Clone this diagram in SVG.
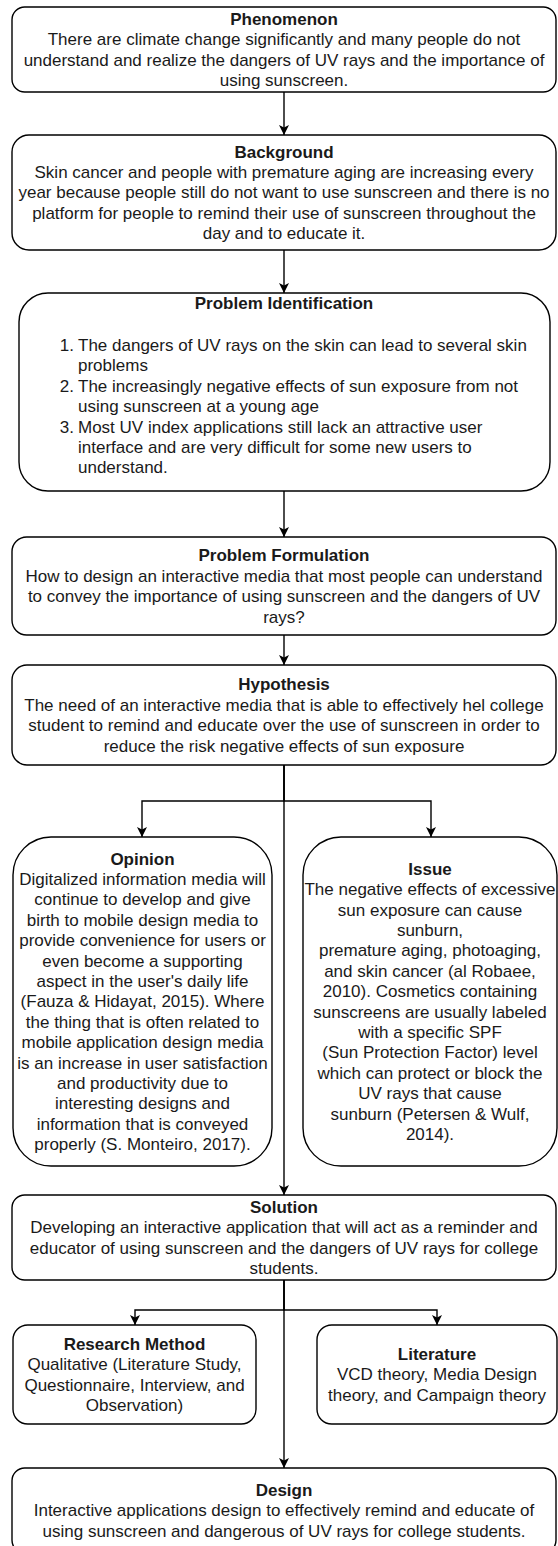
<svg xmlns="http://www.w3.org/2000/svg" width="558" height="1546" viewBox="0 0 558 1546">
<defs>
<style>
.box{fill:#ffffff;stroke:#000000;stroke-width:1.4}
.edge{fill:none;stroke:#000000;stroke-width:1.4}
text{font-family:"Liberation Sans",Arial,Helvetica,sans-serif;font-size:17px;fill:#1a1a1a}
.c{text-anchor:middle}
.b{font-weight:bold}
.n{text-anchor:end}
</style>
<marker id="arr" viewBox="0 0 10 10" refX="10" refY="5" markerWidth="10" markerHeight="10" markerUnits="userSpaceOnUse" orient="auto">
<path d="M0,0 L10,5 L0,10 L2.5,5 z" fill="#000000"/>
</marker>
</defs>
<rect width="558" height="1546" fill="#ffffff"/>
<g id="connectors">
<path class="edge" d="M284 92 V135" marker-end="url(#arr)"/>
<path class="edge" d="M284 250 V293" marker-end="url(#arr)"/>
<path class="edge" d="M284 491 V537" marker-end="url(#arr)"/>
<path class="edge" d="M284 635 V665" marker-end="url(#arr)"/>
<path class="edge" d="M284 765 V801 H142 V837" marker-end="url(#arr)"/>
<path class="edge" d="M284 765 V801 H431 V837" marker-end="url(#arr)"/>
<path class="edge" d="M284 765 V1195" marker-end="url(#arr)"/>
<path class="edge" d="M284 1280 V1310 H135 V1325" marker-end="url(#arr)"/>
<path class="edge" d="M284 1280 V1310 H437 V1325" marker-end="url(#arr)"/>
<path class="edge" d="M284 1280 V1468" marker-end="url(#arr)"/>
</g>
<g id="phenomenon">
<rect class="box" x="12" y="7" width="544" height="85" rx="12.7"/>
<text class="c b" x="284" y="24.9">Phenomenon</text>
<text class="c" x="284" y="45.3">There are climate change significantly and many people do not</text>
<text class="c" x="284" y="65.7">understand and realize the dangers of UV rays and the importance of</text>
<text class="c" x="284" y="86.1">using sunscreen.</text>
</g>
<g id="background">
<rect class="box" x="12" y="135" width="544" height="115" rx="17"/>
<text class="c b" x="284" y="157.6">Background</text>
<text class="c" x="284" y="178">Skin cancer and people with premature aging are increasing every</text>
<text class="c" x="284" y="198.4">year because people still do not want to use sunscreen and there is no</text>
<text class="c" x="284" y="218.8">platform for people to remind their use of sunscreen throughout the</text>
<text class="c" x="284" y="239.2">day and to educate it.</text>
</g>
<g id="problem-identification">
<rect class="box" x="19" y="293" width="531" height="198" rx="29"/>
<text class="c b" x="284" y="309">Problem Identification</text>
<text class="n" x="74" y="351">1.</text>
<text x="78" y="351">The dangers of UV rays on the skin can lead to several skin</text>
<text x="78" y="371.4">problems</text>
<text class="n" x="74" y="391.8">2.</text>
<text x="78" y="391.8">The increasingly negative effects of sun exposure from not</text>
<text x="78" y="412.2">using sunscreen at a young age</text>
<text class="n" x="74" y="432.6">3.</text>
<text x="78" y="432.6">Most UV index applications still lack an attractive user</text>
<text x="78" y="453">interface and are very difficult for some new users to</text>
<text x="78" y="473.4">understand.</text>
</g>
<g id="problem-formulation">
<rect class="box" x="12" y="537" width="544" height="98" rx="14.7"/>
<text class="c b" x="284" y="561.3">Problem Formulation</text>
<text class="c" x="284" y="581.7">How to design an interactive media that most people can understand</text>
<text class="c" x="284" y="602.1">to convey the importance of using sunscreen and the dangers of UV</text>
<text class="c" x="284" y="622.5">rays?</text>
</g>
<g id="hypothesis">
<rect class="box" x="12" y="665" width="544" height="100" rx="15"/>
<text class="c b" x="284" y="690.3">Hypothesis</text>
<text class="c" x="284" y="710.7">The need of an interactive media that is able to effectively hel college</text>
<text class="c" x="284" y="731.1">student to remind and educate over the use of sunscreen in order to</text>
<text class="c" x="284" y="751.5">reduce the risk negative effects of sun exposure</text>
</g>
<g id="opinion">
<rect class="box" x="13" y="837" width="259" height="329" rx="38"/>
<text class="c b" x="142.5" y="864.6">Opinion</text>
<text class="c" x="142.5" y="885">Digitalized information media will</text>
<text class="c" x="142.5" y="905.4">continue to develop and give</text>
<text class="c" x="142.5" y="925.8">birth to mobile design media to</text>
<text class="c" x="142.5" y="946.2">provide convenience for users or</text>
<text class="c" x="142.5" y="966.6">even become a supporting</text>
<text class="c" x="142.5" y="987">aspect in the user's daily life</text>
<text class="c" x="142.5" y="1007.4">(Fauza &amp; Hidayat, 2015). Where</text>
<text class="c" x="142.5" y="1027.8">the thing that is often related to</text>
<text class="c" x="142.5" y="1048.2">mobile application design media</text>
<text class="c" x="142.5" y="1068.6">is an increase in user satisfaction</text>
<text class="c" x="142.5" y="1089">and productivity due to</text>
<text class="c" x="142.5" y="1109.4">interesting designs and</text>
<text class="c" x="142.5" y="1129.8">information that is conveyed</text>
<text class="c" x="142.5" y="1150.2">properly (S. Monteiro, 2017).</text>
</g>
<g id="issue">
<rect class="box" x="303" y="837" width="254" height="329" rx="38"/>
<text class="c b" x="430" y="874.8">Issue</text>
<text class="c" x="430" y="895.2">The negative effects of excessive</text>
<text class="c" x="430" y="915.6">sun exposure can cause</text>
<text class="c" x="430" y="936">sunburn,</text>
<text class="c" x="430" y="956.4">premature aging, photoaging,</text>
<text class="c" x="430" y="976.8">and skin cancer (al Robaee,</text>
<text class="c" x="430" y="997.2">2010). Cosmetics containing</text>
<text class="c" x="430" y="1017.6">sunscreens are usually labeled</text>
<text class="c" x="430" y="1038">with a specific SPF</text>
<text class="c" x="430" y="1058.4">(Sun Protection Factor) level</text>
<text class="c" x="430" y="1078.8">which can protect or block the</text>
<text class="c" x="430" y="1099.2">UV rays that cause</text>
<text class="c" x="430" y="1119.6">sunburn (Petersen &amp; Wulf,</text>
<text class="c" x="430" y="1140">2014).</text>
</g>
<g id="solution">
<rect class="box" x="12" y="1195" width="544" height="85" rx="12.7"/>
<text class="c b" x="284" y="1212.8">Solution</text>
<text class="c" x="284" y="1233.2">Developing an interactive application that will act as a reminder and</text>
<text class="c" x="284" y="1253.6">educator of using sunscreen and the dangers of UV rays for college</text>
<text class="c" x="284" y="1274">students.</text>
</g>
<g id="research-method">
<rect class="box" x="13" y="1325" width="243" height="99" rx="14.8"/>
<text class="c b" x="134.5" y="1349.8">Research Method</text>
<text class="c" x="134.5" y="1370.2">Qualitative (Literature Study,</text>
<text class="c" x="134.5" y="1390.6">Questionnaire, Interview, and</text>
<text class="c" x="134.5" y="1411">Observation)</text>
</g>
<g id="literature">
<rect class="box" x="317" y="1325" width="240" height="99" rx="14.8"/>
<text class="c b" x="437" y="1360">Literature</text>
<text class="c" x="437" y="1380.4">VCD theory, Media Design</text>
<text class="c" x="437" y="1400.8">theory, and Campaign theory</text>
</g>
<g id="design">
<rect class="box" x="12" y="1468" width="544" height="85" rx="12.7"/>
<text class="c b" x="284" y="1496">Design</text>
<text class="c" x="284" y="1516.4">Interactive applications design to effectively remind and educate of</text>
<text class="c" x="284" y="1536.8">using sunscreen and dangerous of UV rays for college students.</text>
</g>
</svg>
